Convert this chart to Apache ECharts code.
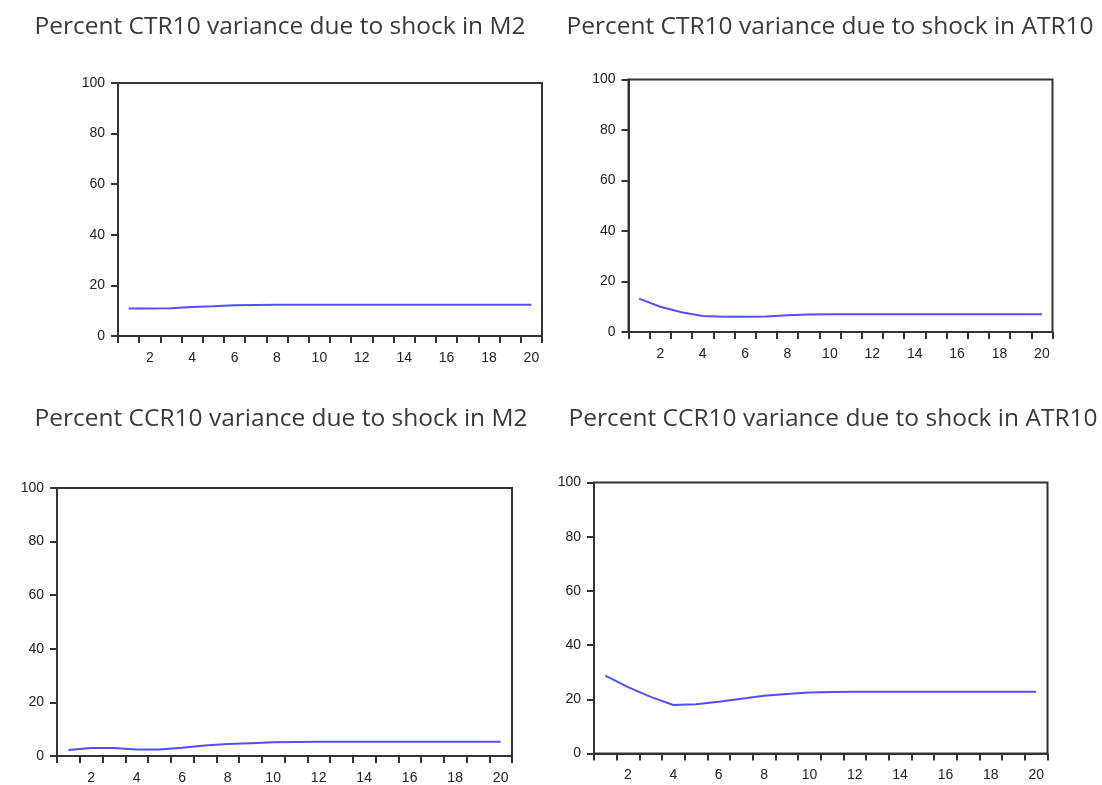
<!DOCTYPE html>
<html>
<head>
<meta charset="utf-8">
<script src="https://cdn.jsdelivr.net/npm/echarts@6/dist/echarts.min.js"></script>
<style>
html,body{margin:0;padding:0;background:#fff;}
#chart{width:1102px;height:785px;}
</style>
</head>
<body>
<div id="chart"></div>
<script>
const periods = [1,2,3,4,5,6,7,8,9,10,11,12,13,14,15,16,17,18,19,20];
const titles = [
  "Percent CTR10 variance due to shock in M2",
  "Percent CTR10 variance due to shock in ATR10",
  "Percent CCR10 variance due to shock in M2",
  "Percent CCR10 variance due to shock in ATR10"
];
const ctr10_m2   = [10.9,10.9,11.0,11.5,11.8,12.2,12.3,12.4,12.4,12.4,12.4,12.4,12.4,12.4,12.4,12.4,12.4,12.4,12.4,12.4];
const ctr10_atr10= [13.2,10.0,7.8,6.3,6.0,6.0,6.1,6.6,6.9,7.0,7.0,7.0,7.0,7.0,7.0,7.0,7.0,7.0,7.0,7.0];
const ccr10_m2   = [2.2,3.0,3.0,2.4,2.4,3.1,3.9,4.5,4.8,5.1,5.2,5.3,5.3,5.3,5.3,5.3,5.3,5.3,5.3,5.3];
const ccr10_atr10= [28.7,24.5,20.9,17.9,18.2,19.1,20.2,21.3,22.0,22.5,22.7,22.8,22.8,22.8,22.8,22.8,22.8,22.8,22.8,22.8];
const yTicks = [0,20,40,60,80,100];

const seriesData = [ctr10_m2, ctr10_atr10, ccr10_m2, ccr10_atr10];
const grids = [
  {left:118, top:83, width:424, height:253},
  {left:628.5, top:79.5, width:424, height:252.5},
  {left:57, top:488, width:455, height:271.5},
  {left:594, top:482.5, width:453.5, height:271}
];
const titlePos = [[280,27],[830,27],[281,419],[833,419]];

const axisColor = '#333';
const option = {
  animation:false,
  backgroundColor:'#fff',
  grid: grids.map(g => Object.assign({show:true, borderColor:axisColor, borderWidth:2, backgroundColor:'#fff'}, g)),
  xAxis: grids.map((g,i) => ({
    gridIndex:i, type:'category', data:periods.map(String), boundaryGap:true,
    axisLine:{lineStyle:{color:axisColor, width:2}},
    axisTick:{show:true, interval:0, length:7, lineStyle:{color:axisColor, width:2}},
    axisLabel:{interval:(idx,val)=>Number(val)%2===0, color:'#222', fontSize:14, fontFamily:'Liberation Sans', margin:15},
    splitLine:{show:false}
  })),
  yAxis: grids.map((g,i) => ({
    gridIndex:i, type:'value', min:yTicks[0], max:yTicks[yTicks.length-1], interval:20,
    axisLine:{show:true, lineStyle:{color:axisColor, width:2}},
    axisTick:{show:true, length:7, lineStyle:{color:axisColor, width:2}},
    axisLabel:{color:'#222', fontSize:14, fontFamily:'Liberation Sans', margin:13},
    splitLine:{show:false}
  })),
  series: seriesData.map((d,i) => ({
    type:'line', xAxisIndex:i, yAxisIndex:i, data:d, showSymbol:false, smooth:false,
    lineStyle:{color:'#5050ff', width:2}
  })),
  graphic: titles.map((t,i) => ({
    type:'text', x:titlePos[i][0], y:titlePos[i][1],
    style:{text:t, fill:'#3a3a3a', fontSize:24.5, fontFamily:'Open Sans', align:'center', verticalAlign:'middle'}
  }))
};
const chart = echarts.init(document.getElementById('chart'), null, {renderer:'canvas'});
chart.setOption(option);
</script>
</body>
</html>
